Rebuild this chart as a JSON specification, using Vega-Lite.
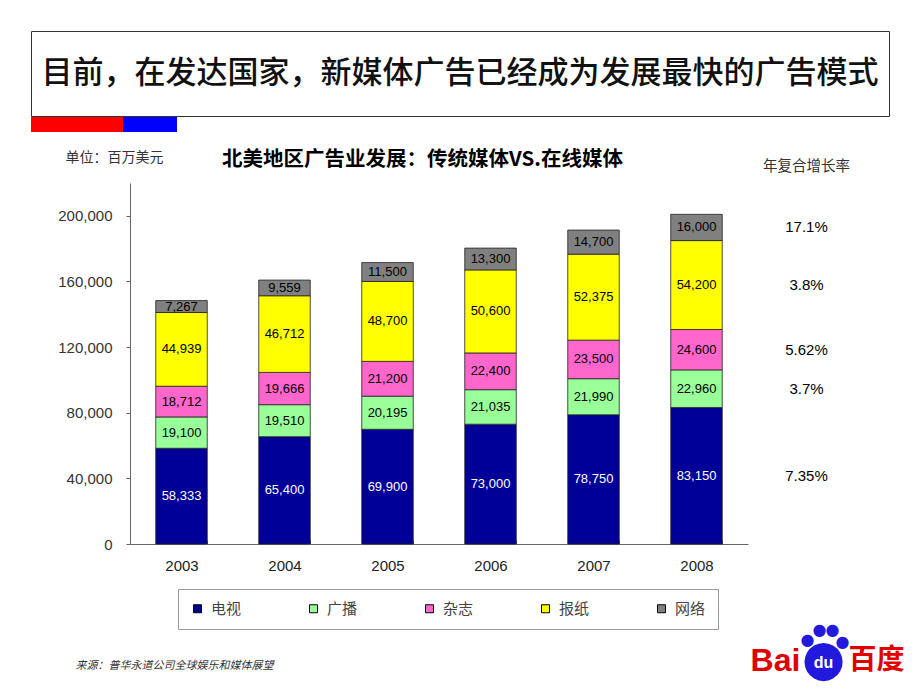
{
  "$schema": "https://vega.github.io/schema/vega-lite/v6.json",
  "background": "white",
  "padding": {"left": 30, "top": 30, "right": 0, "bottom": 0},
  "config": {"view": {"stroke": null}, "font": "Liberation Sans"},
  "datasets": {
    "ad": [
      {"year": "2003", "media": "电视", "rank": 1, "value": 58333},
      {"year": "2003", "media": "广播", "rank": 2, "value": 19100},
      {"year": "2003", "media": "杂志", "rank": 3, "value": 18712},
      {"year": "2003", "media": "报纸", "rank": 4, "value": 44939},
      {"year": "2003", "media": "网络", "rank": 5, "value": 7267},
      {"year": "2004", "media": "电视", "rank": 1, "value": 65400},
      {"year": "2004", "media": "广播", "rank": 2, "value": 19510},
      {"year": "2004", "media": "杂志", "rank": 3, "value": 19666},
      {"year": "2004", "media": "报纸", "rank": 4, "value": 46712},
      {"year": "2004", "media": "网络", "rank": 5, "value": 9559},
      {"year": "2005", "media": "电视", "rank": 1, "value": 69900},
      {"year": "2005", "media": "广播", "rank": 2, "value": 20195},
      {"year": "2005", "media": "杂志", "rank": 3, "value": 21200},
      {"year": "2005", "media": "报纸", "rank": 4, "value": 48700},
      {"year": "2005", "media": "网络", "rank": 5, "value": 11500},
      {"year": "2006", "media": "电视", "rank": 1, "value": 73000},
      {"year": "2006", "media": "广播", "rank": 2, "value": 21035},
      {"year": "2006", "media": "杂志", "rank": 3, "value": 22400},
      {"year": "2006", "media": "报纸", "rank": 4, "value": 50600},
      {"year": "2006", "media": "网络", "rank": 5, "value": 13300},
      {"year": "2007", "media": "电视", "rank": 1, "value": 78750},
      {"year": "2007", "media": "广播", "rank": 2, "value": 21990},
      {"year": "2007", "media": "杂志", "rank": 3, "value": 23500},
      {"year": "2007", "media": "报纸", "rank": 4, "value": 52375},
      {"year": "2007", "media": "网络", "rank": 5, "value": 14700},
      {"year": "2008", "media": "电视", "rank": 1, "value": 83150, "cagr": "7.35%"},
      {"year": "2008", "media": "广播", "rank": 2, "value": 22960, "cagr": "3.7%"},
      {"year": "2008", "media": "杂志", "rank": 3, "value": 24600, "cagr": "5.62%"},
      {"year": "2008", "media": "报纸", "rank": 4, "value": 54200, "cagr": "3.8%"},
      {"year": "2008", "media": "网络", "rank": 5, "value": 16000, "cagr": "17.1%"}
    ]
  },
  "spacing": 17,
  "vconcat": [
    {
      "spacing": 0,
      "vconcat": [
        {
          "width": 858,
          "height": 85,
          "view": {"stroke": "#333333", "strokeWidth": 1},
          "data": {"values": [{}]},
          "mark": {"type": "text", "font": "Noto Sans CJK SC", "fontSize": 31, "fontWeight": 500, "color": "#111111", "align": "center", "baseline": "middle"},
          "encoding": {"text": {"value": "目前，在发达国家，新媒体广告已经成为发展最快的广告模式"}}
        },
        {
          "spacing": 0,
          "hconcat": [
            {
              "width": 92, "height": 15,
              "view": {"fill": "#FF0000", "stroke": null},
              "data": {"values": [{}]},
              "mark": "text",
              "encoding": {"text": {"value": ""}}
            },
            {
              "width": 54, "height": 15,
              "view": {"fill": "#0000FF", "stroke": null},
              "data": {"values": [{}]},
              "mark": "text",
              "encoding": {"text": {"value": ""}}
            }
          ]
        }
      ]
    },
    {
      "spacing": 0,
      "hconcat": [
        {
          "width": 26, "height": 10,
          "data": {"values": [{}]},
          "mark": "text",
          "encoding": {"text": {"value": ""}}
        },
        {
          "width": 618,
          "height": 361,
          "data": {"name": "ad"},
          "title": {"text": "北美地区广告业发展：传统媒体VS.在线媒体", "anchor": "start", "frame": "group", "dx": 92, "offset": -20, "font": "Noto Sans CJK SC", "fontSize": 20.5, "fontWeight": "bold", "color": "#000000"},
          "encoding": {
            "x": {
              "field": "year", "type": "nominal",
              "scale": {"paddingInner": 0.5, "paddingOuter": 0.25},
              "axis": {
                "title": "来源：普华永道公司全球娱乐和媒体展望",
                "titleX": -55, "titleY": 121, "titleAlign": "left", "titleBaseline": "middle",
                "titleFont": "Noto Sans CJK SC", "titleFontSize": 11, "titleFontStyle": "italic", "titleFontWeight": "normal", "titleColor": "#333333",
                "labelAngle": 0, "labelFontSize": 15, "labelColor": "#222222", "labelPadding": 18,
                "tickBand": "extent", "tickSize": -4, "tickColor": "#666666", "domainColor": "#666666"
              }
            }
          },
          "layer": [
            {
              "mark": {"type": "bar", "stroke": "#222222", "strokeWidth": 0.8},
              "encoding": {
                "y": {
                  "field": "value", "type": "quantitative", "stack": "zero",
                  "scale": {"domain": [0, 220000], "nice": false},
                  "axis": {
                    "title": "单位：百万美元", "titleAngle": 0, "titleX": -65, "titleY": -26,
                    "titleAlign": "left", "titleBaseline": "middle",
                    "titleFont": "Noto Sans CJK SC", "titleFontSize": 14, "titleFontWeight": "normal", "titleColor": "#333333",
                    "values": [0, 40000, 80000, 120000, 160000, 200000],
                    "labelExpr": "format(datum.value, ',')",
                    "labelFontSize": 15, "labelColor": "#333333", "labelPadding": 14,
                    "tickSize": 4, "grid": false, "domainColor": "#666666", "tickColor": "#666666"
                  }
                },
                "color": {
                  "field": "media", "type": "nominal",
                  "scale": {"domain": ["电视", "广播", "杂志", "报纸", "网络"], "range": ["#000099", "#99FF99", "#FF66CC", "#FFFF00", "#808080"]},
                  "legend": {
                    "orient": "none", "legendX": 147, "legendY": 558, "direction": "horizontal", "columns": 5,
                    "title": null, "columnPadding": 64, "symbolType": "square", "symbolSize": 64,
                    "symbolStrokeColor": "#000000", "symbolStrokeWidth": 1,
                    "labelFont": "Noto Sans CJK SC", "labelFontSize": 15, "labelColor": "#444444", "labelOffset": 6,
                    "padding": 12, "strokeColor": "#999999", "fillColor": "white"
                  }
                },
                "order": {"field": "rank", "type": "quantitative"}
              }
            },
            {
              "mark": {"type": "text", "fontSize": 13, "baseline": "middle", "align": "center"},
              "encoding": {
                "y": {"field": "value", "type": "quantitative", "stack": "zero", "bandPosition": 0.5},
                "detail": {"field": "media"},
                "order": {"field": "rank", "type": "quantitative"},
                "text": {"field": "value", "type": "quantitative", "format": ","},
                "color": {"condition": {"test": "datum.media === '电视'", "value": "white"}, "value": "black"}
              }
            },
            {
              "transform": [{"filter": "datum.year == '2008'"}],
              "mark": {"type": "text", "fontSize": 15, "baseline": "middle", "align": "center", "dx": 110, "color": "#000000"},
              "encoding": {
                "y": {"field": "value", "type": "quantitative", "stack": "zero", "bandPosition": 0.5},
                "detail": {"field": "media"},
                "order": {"field": "rank", "type": "quantitative"},
                "text": {"field": "cagr"}
              }
            },
            {
              "data": {"values": [{}]},
              "mark": {"type": "text", "font": "Noto Sans CJK SC", "fontSize": 14.5, "baseline": "middle", "align": "center", "dx": 110, "color": "#333333"},
              "encoding": {"x": {"datum": "2008"}, "y": {"datum": 230000}, "text": {"value": "年复合增长率"}}
            },
            {
              "data": {"values": [{}]},
              "mark": {"type": "text", "fontSize": 32, "fontWeight": "bold", "baseline": "middle", "align": "center", "dx": 79, "dy": 117, "color": "#E10000"},
              "encoding": {"x": {"datum": "2008"}, "y": {"datum": 0}, "text": {"value": "Bai"}}
            },
            {
              "data": {"values": [{}]},
              "mark": {"type": "text", "font": "DejaVu Sans", "fontSize": 50, "baseline": "middle", "align": "center", "dx": 127, "dy": 116, "color": "#2319DC"},
              "encoding": {"x": {"datum": "2008"}, "y": {"datum": 0}, "text": {"value": "●"}}
            },
            {
              "data": {"values": [{}]},
              "mark": {"type": "text", "font": "DejaVu Sans", "fontSize": 16, "baseline": "middle", "align": "center", "dx": 111, "dy": 96, "color": "#2319DC"},
              "encoding": {"x": {"datum": "2008"}, "y": {"datum": 0}, "text": {"value": "●"}}
            },
            {
              "data": {"values": [{}]},
              "mark": {"type": "text", "font": "DejaVu Sans", "fontSize": 16, "baseline": "middle", "align": "center", "dx": 123, "dy": 86, "color": "#2319DC"},
              "encoding": {"x": {"datum": "2008"}, "y": {"datum": 0}, "text": {"value": "●"}}
            },
            {
              "data": {"values": [{}]},
              "mark": {"type": "text", "font": "DejaVu Sans", "fontSize": 16, "baseline": "middle", "align": "center", "dx": 136, "dy": 86, "color": "#2319DC"},
              "encoding": {"x": {"datum": "2008"}, "y": {"datum": 0}, "text": {"value": "●"}}
            },
            {
              "data": {"values": [{}]},
              "mark": {"type": "text", "font": "DejaVu Sans", "fontSize": 16, "baseline": "middle", "align": "center", "dx": 146, "dy": 98, "color": "#2319DC"},
              "encoding": {"x": {"datum": "2008"}, "y": {"datum": 0}, "text": {"value": "●"}}
            },
            {
              "data": {"values": [{}]},
              "mark": {"type": "text", "fontSize": 16, "fontWeight": "bold", "baseline": "middle", "align": "center", "dx": 127, "dy": 119, "color": "white"},
              "encoding": {"x": {"datum": "2008"}, "y": {"datum": 0}, "text": {"value": "du"}}
            },
            {
              "data": {"values": [{}]},
              "mark": {"type": "text", "font": "Noto Sans CJK SC", "fontSize": 28, "fontWeight": "bold", "baseline": "middle", "align": "center", "dx": 180, "dy": 117, "color": "#E10000"},
              "encoding": {"x": {"datum": "2008"}, "y": {"datum": 0}, "text": {"value": "百度"}}
            }
          ]
        }
      ]
    }
  ]
}
